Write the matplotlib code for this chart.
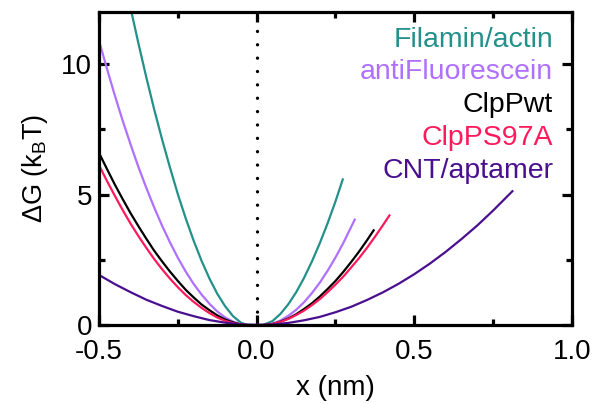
import matplotlib
matplotlib.use('Agg')
import matplotlib.pyplot as plt
from matplotlib.ticker import MultipleLocator, FormatStrFormatter

plt.rcParams['font.family'] = ['Liberation Sans', 'DejaVu Sans']
plt.rcParams['mathtext.default'] = 'regular'

# 曲線データ
x_filamin = [-0.40, -0.375, -0.35, -0.325, -0.30, -0.275, -0.25, -0.225, -0.20, -0.175,
             -0.15, -0.125, -0.10, -0.075, -0.05, -0.03,
             0.02, 0.05, 0.075, 0.10, 0.125, 0.15, 0.175, 0.20, 0.225, 0.25, 0.273]
g_filamin = [12.16, 10.80, 9.50, 8.27, 7.12, 6.04, 5.02, 4.09, 3.24, 2.47,
             1.79, 1.20, 0.72, 0.34, 0.09, 0.0,
             0.0, 0.15, 0.42, 0.79, 1.25, 1.80, 2.43, 3.13, 3.90, 4.74, 5.58]

x_antifl = [-0.50, -0.475, -0.45, -0.425, -0.40, -0.375, -0.35, -0.325, -0.30, -0.275,
            -0.25, -0.225, -0.20, -0.175, -0.15, -0.125, -0.10, -0.075, -0.05, -0.03,
            0.02, 0.05, 0.075, 0.10, 0.125, 0.15, 0.175, 0.20, 0.225, 0.25, 0.275, 0.311]
g_antifl = [10.90, 9.84, 8.81, 7.84, 6.93, 6.06, 5.26, 4.51, 3.81, 3.17,
            2.58, 2.05, 1.58, 1.17, 0.82, 0.52, 0.29, 0.13, 0.03, 0.0,
            0.0, 0.05, 0.17, 0.35, 0.58, 0.87, 1.22, 1.62, 2.08, 2.59, 3.15, 4.04]

x_clpwt = [-0.50, -0.475, -0.45, -0.425, -0.40, -0.375, -0.35, -0.325, -0.30, -0.275,
           -0.25, -0.225, -0.20, -0.175, -0.15, -0.125, -0.10, -0.075, -0.05, -0.03,
           0.02, 0.05, 0.075, 0.10, 0.125, 0.15, 0.175, 0.20, 0.225, 0.25, 0.275,
           0.30, 0.325, 0.35, 0.371]
g_clpwt = [6.60, 5.99, 5.39, 4.83, 4.29, 3.79, 3.31, 2.85, 2.44, 2.05,
           1.69, 1.35, 1.06, 0.79, 0.57, 0.37, 0.21, 0.10, 0.02, 0.0,
           0.0, 0.04, 0.13, 0.25, 0.41, 0.61, 0.83, 1.09, 1.38, 1.69, 2.04,
           2.42, 2.82, 3.25, 3.63]

x_clps97a = [-0.50, -0.475, -0.45, -0.425, -0.40, -0.375, -0.35, -0.325, -0.30, -0.275,
             -0.25, -0.225, -0.20, -0.175, -0.15, -0.125, -0.10, -0.075, -0.05, -0.03,
             0.02, 0.05, 0.075, 0.10, 0.125, 0.15, 0.175, 0.20, 0.225, 0.25, 0.275,
             0.30, 0.325, 0.35, 0.375, 0.40, 0.421]
g_clps97a = [6.13, 5.53, 4.96, 4.41, 3.89, 3.41, 2.96, 2.53, 2.14, 1.78,
             1.45, 1.15, 0.89, 0.66, 0.46, 0.29, 0.16, 0.07, 0.02, 0.0,
             0.0, 0.04, 0.12, 0.23, 0.38, 0.55, 0.76, 0.99, 1.26, 1.55, 1.86,
             2.21, 2.57, 2.96, 3.38, 3.82, 4.20]

x_cnt = [-0.50, -0.45, -0.40, -0.35, -0.30, -0.25, -0.20, -0.15, -0.10, -0.05, 0.00,
         0.05, 0.10, 0.15, 0.20, 0.25, 0.30, 0.35, 0.40, 0.45, 0.50,
         0.55, 0.60, 0.65, 0.70, 0.75, 0.811]
g_cnt = [1.92, 1.57, 1.26, 0.97, 0.73, 0.51, 0.34, 0.19, 0.09, 0.02, 0.0,
         0.02, 0.08, 0.18, 0.31, 0.49, 0.70, 0.96, 1.25, 1.58, 1.95,
         2.36, 2.81, 3.30, 3.82, 4.39, 5.13]

names = ['Filamin/actin', 'antiFluorescein', 'ClpPwt', 'ClpPS97A', 'CNT/aptamer']
colors = ['#23908a', '#b070ff', '#000000', '#ff1a5c', '#4a0f8f']

fig = plt.figure(figsize=(5.92, 4.04), dpi=100)
ax = fig.add_axes([0.1672, 0.1955, 0.799, 0.7748])

# x=0 の点線
ax.axvline(0, color='black', lw=2.4, linestyle=(0, (0.01, 4.0)),
           dash_capstyle='round', zorder=1)

series = [(x_filamin, g_filamin), (x_antifl, g_antifl), (x_clpwt, g_clpwt),
          (x_clps97a, g_clps97a), (x_cnt, g_cnt)]
for (xs, gs), c in zip(series, colors):
    ax.plot(xs, gs, color=c, lw=1.6, zorder=2)

# 凡例（色付きテキスト）
label_y = [0.889, 0.787, 0.680, 0.575, 0.470]
for name, c, yy in zip(names, colors, label_y):
    ax.text(0.96, yy, name, color=c, fontsize=20.5, ha='right', va='baseline',
            transform=ax.transAxes)

ax.set_xlim(-0.5, 1.0)
ax.set_ylim(0, 12)
ax.xaxis.set_major_locator(MultipleLocator(0.5))
ax.xaxis.set_minor_locator(MultipleLocator(0.25))
ax.yaxis.set_major_locator(MultipleLocator(5))
ax.yaxis.set_minor_locator(MultipleLocator(2.5))
ax.xaxis.set_major_formatter(FormatStrFormatter('%.1f'))

for s in ax.spines.values():
    s.set_linewidth(2.3)
ax.tick_params(which='major', direction='in', length=7, width=2.3,
               top=True, right=True, labelsize=20)
ax.tick_params(which='minor', direction='in', length=4.5, width=2.3,
               top=True, right=True)
ax.tick_params(axis='x', which='major', pad=10)
ax.tick_params(axis='y', which='major', pad=5)

ax.set_xlabel('x (nm)', fontsize=20, labelpad=7)
ax.set_ylabel('ΔG (k$_{B}$T)', fontsize=19.5, labelpad=8)

fig.savefig('out.png', dpi=100)
